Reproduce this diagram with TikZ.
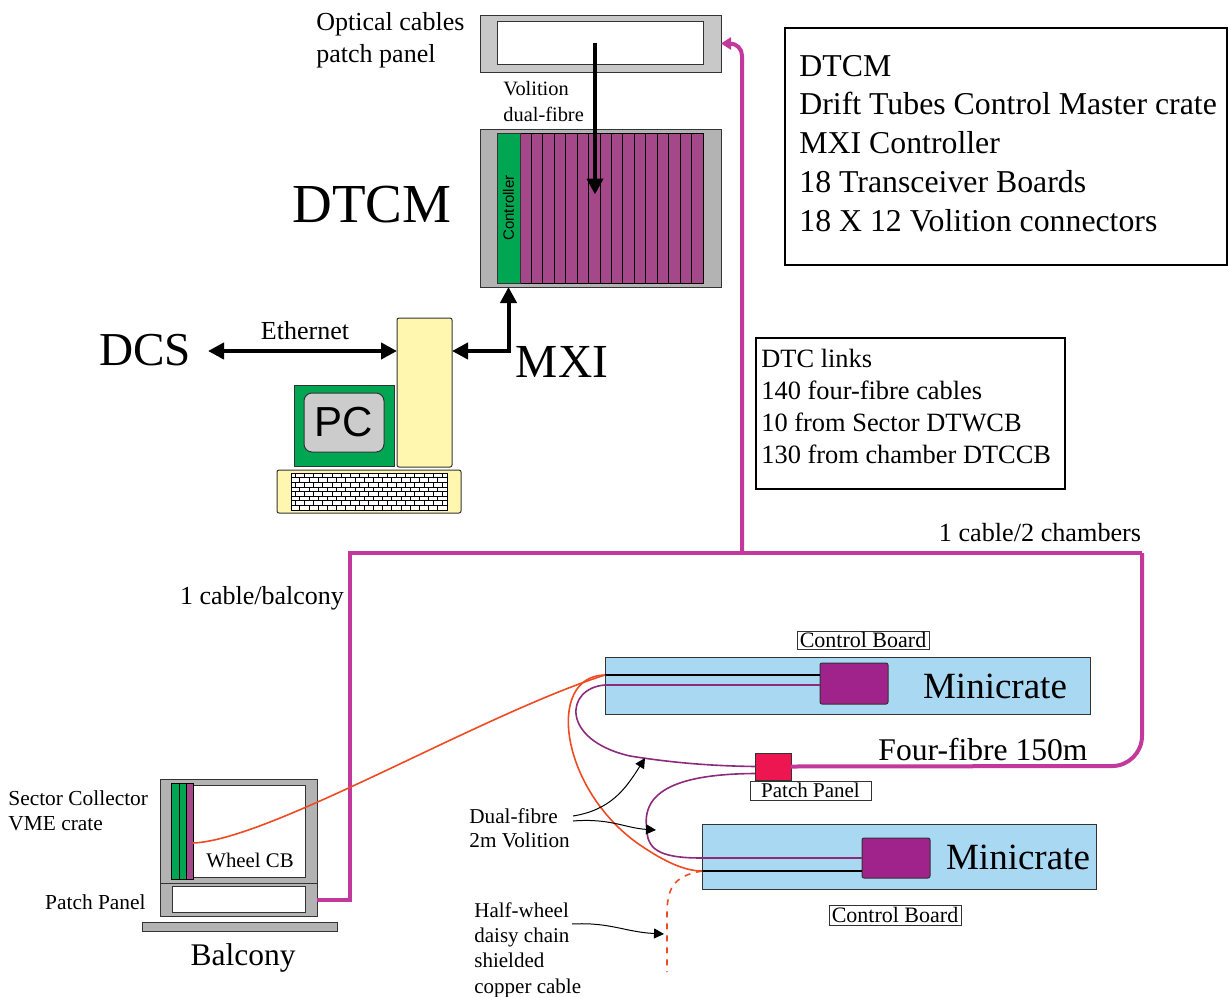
\documentclass[tikz,border=0pt]{standalone}
\usepackage{fontspec}
\setmainfont{Liberation Serif}
\newfontfamily\sansfam{Liberation Sans}
\usetikzlibrary{arrows.meta}

\definecolor{panelgray}{HTML}{C8C8C8}
\definecolor{crategray}{HTML}{B3B3B3}
\definecolor{slotpurple}{HTML}{A4488A}
\definecolor{ctrlgreen}{HTML}{00A651}
\definecolor{pcyellow}{HTML}{FFF6AF}
\definecolor{screengray}{HTML}{CCCCCC}
\definecolor{crateblue}{HTML}{A9D8F2}
\definecolor{boardpurple}{HTML}{A0228B}
\definecolor{cablemag}{HTML}{C2399B}
\definecolor{fibrepurple}{HTML}{8E2A7C}
\definecolor{copperred}{HTML}{F04A23}
\definecolor{patchred}{HTML}{ED1651}

\newcommand{\pxl}{0.5pt}
\newcommand{\fsz}[2]{\fontsize{#1}{#2}\selectfont}

\begin{document}
\begin{tikzpicture}[x=0.5pt,y=-0.5pt,
    part/.style 2 args={draw=black!80,line width=0.5pt,minimum width=#1*\pxl,
      minimum height=#2*\pxl,inner sep=0pt,outer sep=0pt},
    lbl/.style={inner sep=0pt,align=left},
    big/.style={line width=2pt,-{Triangle[length=8pt,width=8pt]}},
    dbl/.style={line width=2pt,{Triangle[length=8pt,width=8pt]}-{Triangle[length=8pt,width=8pt]}},
    thin/.style={line width=0.5pt,-{Triangle[length=5pt,width=5pt]}},
    cable/.style={draw=cablemag,line width=2pt},
    fibre/.style={draw=fibrepurple,line width=0.8pt},
    copper/.style={draw=copperred,line width=0.8pt},
  ]
  \useasboundingbox (0,0) rectangle (1228,997);

  % Optical patch panel
  \node[part={241}{57},fill=panelgray] (optpanel) at (600.5,43.5) {};
  \node[part={206}{43},fill=white] (optin) at (600,42.5) {};
  \node[lbl,anchor=west,font=\fsz{13}{16}] (optlbl) at (316,40) {Optical cables\\patch panel};

  % DTCM crate
  \node[part={241}{158},fill=crategray] (crate) at (600.5,208) {};
  \foreach \i in {0,...,15}
    \draw[fill=slotpurple,line width=0.5pt] ({520+\i*11.4375},133) rectangle +(11.4375,150);
  \node[part={23}{150},fill=ctrlgreen] (ctrl) at (508.5,208) {};
  \node[rotate=90,font=\sansfam\fsz{7.5}{9}] (ctrllbl) at (ctrl) {Controller};
  \node[font=\fsz{27.5}{33}] (dtcm) at (372,205) {DTCM};
  \node[lbl,anchor=west,font=\fsz{10.2}{13}] (vollbl) at (503,102) {Volition\\dual-fibre};
  \draw[big] ([xshift=-2.5pt]optin.center) -- ++(0,152);

  % PC
  \node[part={55}{149},fill=pcyellow,rounded corners=1pt] (tower) at (424.5,392.5) {};
  \node[part={100}{81},fill=ctrlgreen] (monitor) at (344,425.5) {};
  \node[part={80}{59},fill=screengray,rounded corners=4pt,font=\sansfam\fsz{21}{25}] (screen) at (344,422.5) {PC};
  \node[part={184}{43},fill=pcyellow,rounded corners=1pt] (kbd) at (369,491.5) {};
  \draw[fill=white,line width=0.4pt] (291,473) rectangle (447,510);
  \foreach \r in {1,...,7}
    \draw[line width=0.3pt] (291,473+\r*4.625) -- (447,473+\r*4.625);
  \foreach \r in {0,...,7}
    \foreach \c in {0,...,16}
      \draw[line width=0.3pt] ({295+\c*9.2+mod(\r,2)*4.6},{473+\r*4.625}) -- ++(0,4.625);

  % Ethernet and MXI
  \coordinate (ethL) at (208,351);
  \node[font=\fsz{23.6}{28}] (dcs) at (145,350) {DCS};
  \node[font=\fsz{23.7}{28}] (mxi) at (562,362) {MXI};
  \node[font=\fsz{13}{16}] (eth) at (305,331) {Ethernet};
  \draw[dbl] (ethL) -- (ethL -| tower.west);
  \draw[dbl] (ethL -| tower.east) -| (ctrl.center |- crate.south);

  % Info boxes
  \node[part={442}{237},draw=black,line width=1pt] (infobox) at (1006,146.5) {};
  \node[lbl,anchor=west,font=\fsz{15.9}{19.4}] (infotxt) at ([xshift=7pt,yshift=1.5pt]infobox.west)
    {DTCM\\Drift Tubes Control Master crate\\MXI Controller\\18 Transceiver Boards\\18 X 12 Volition connectors};
  \node[part={309}{151},draw=black,line width=0.75pt] (linkbox) at (910.5,413.5) {};
  \node[lbl,anchor=west,font=\fsz{13.2}{16}] (linktxt) at ([xshift=2.5pt,yshift=3.75pt]linkbox.west)
    {DTC links\\140 four-fibre cables\\10 from Sector DTWCB\\130 from chamber DTCCB};

  % Sector collector on the balcony
  \node[part={157}{104},fill=crategray] (sc) at (238.5,831) {};
  \node[part={112}{92},fill=white] (scin) at (249,831) {};
  \draw[fill=ctrlgreen,line width=0.5pt] (171,783) rectangle (179,879);
  \draw[fill=ctrlgreen,line width=0.5pt] (179,783) rectangle (186,879);
  \draw[fill=slotpurple,line width=0.5pt] (186,783) rectangle (193,879);
  \node[font=\fsz{10.4}{12}] (wcb) at (250,860) {Wheel CB};
  \node[part={157}{33},fill=crategray] (bpp) at (238.5,899.5) {};
  \node[part={133}{26},fill=white] (bppin) at (238.5,899) {};
  \node[part={195}{9},fill=crategray] (shelf) at (239.5,926.5) {};
  \node[font=\fsz{15.75}{19}] (balc) at (243,958) {Balcony};
  \node[lbl,anchor=west,font=\fsz{10.7}{12.5}] (sclbl) at (8,810.5) {Sector Collector\\VME crate};
  \node[lbl,anchor=east,font=\fsz{10.7}{12.5}] (bpplbl) at (146,902) {Patch Panel};

  % Minicrates
  \node[part={485}{57},fill=crateblue] (mc1) at (847.5,685.5) {};
  \node[part={68}{41},fill=boardpurple,rounded corners=1pt] (mc1cb) at (854,683.5) {};
  \node[font=\fsz{18.5}{22}] (mc1lbl) at (995,686) {Minicrate};
  \node[part={132}{18},fill=white,font=\fsz{11}{13}] (cb1) at (863,640) {Control Board};
  \node[part={394}{65},fill=crateblue] (mc2) at (899,856.5) {};
  \node[part={68}{40},fill=boardpurple,rounded corners=1pt] (mc2cb) at (896,858) {};
  \node[font=\fsz{18.5}{22}] (mc2lbl) at (1018,857) {Minicrate};
  \node[part={132}{20},fill=white,font=\fsz{11}{13}] (cb2) at (895,915) {Control Board};

  % Chamber patch panel
  \node[part={36}{27},fill=patchred] (pp) at (773,766.5) {};
  \node[part={121}{19},fill=white,font=\fsz{10.5}{12}] (pplbl) at (810.5,790.5) {Patch Panel};
  \node[font=\fsz{15.8}{19}] (four) at (983,750) {Four-fibre 150m};
  \node[font=\fsz{13.1}{16}] (l2ch) at (1040,533) {1 cable/2 chambers};
  \node[font=\fsz{13}{16}] (lbalc) at (262,598) {1 cable/balcony};

  % Four-fibre cables
  \draw[cable] (bpp.east) -| (350,553) -- (1142,553);
  \draw[cable,rounded corners=15pt] (1142,553) -- (1142,766) -- (pp.east);
  \draw[cable,rounded corners=6pt,-{Triangle[length=5pt,width=6pt]}] (742,553) |- (optpanel.east);

  % Copper and fibre inside the chambers
  \coordinate (wcbout) at (193,843);
  \coordinate (mc1cu) at (605,675);
  \coordinate (mc1fi) at (605,685);
  \coordinate (mc2fi) at (702,858);
  \coordinate (mc2cu) at (702,871);
  \draw[line width=0.9pt] (mc1cu) -- (mc1cu -| mc1cb.west);
  \draw[fibre] (mc1fi) -- (mc1fi -| mc1cb.west);
  \draw[fibre] (mc2fi) -- (mc2fi -| mc2cb.west);
  \draw[line width=0.9pt] (mc2cu) -- (mc2cu -| mc2cb.west);
  \draw[copper] (wcbout) .. controls (270,840) and (480,715) .. (mc1cu);
  \draw[copper] (mc1cu) .. controls (545,676) and (560,790) .. (640,845)
    .. controls (665,862) and (685,871) .. (mc2cu);
  \draw[copper,dashed] (mc2cu) .. controls (672,876) and (667,890) .. (667,915) -- (667,972);
  \draw[fibre] (mc1fi) .. controls (565,688) and (560,740) .. (630,756)
    .. controls (680,764) and (720,766) .. (pp.west);
  \draw[fibre] ([yshift=-3.5pt]pp.west) .. controls (680,774) and (640,790) .. (647,830)
    .. controls (647,852) and (665,858) .. (mc2fi);

  % Callouts
  \node[lbl,anchor=west,font=\fsz{10.6}{12}] (dflbl) at (469,828) {Dual-fibre\\2m Volition};
  \coordinate (dfa) at (573,816);
  \coordinate (dfb) at (573,821);
  \draw[thin] (dfa) .. controls (610,810) and (625,790) .. (645,758);
  \draw[thin] (dfb) .. controls (610,818) and (625,828) .. (656,830);
  \node[lbl,anchor=west,font=\fsz{10.5}{12.65}] (hwlbl) at (474,950) {Half-wheel\\daisy chain\\shielded\\copper cable};
  \coordinate (hwa) at (572,924);
  \draw[thin] (hwa) .. controls (610,922) and (625,932) .. (664,934);
\end{tikzpicture}
\end{document}
